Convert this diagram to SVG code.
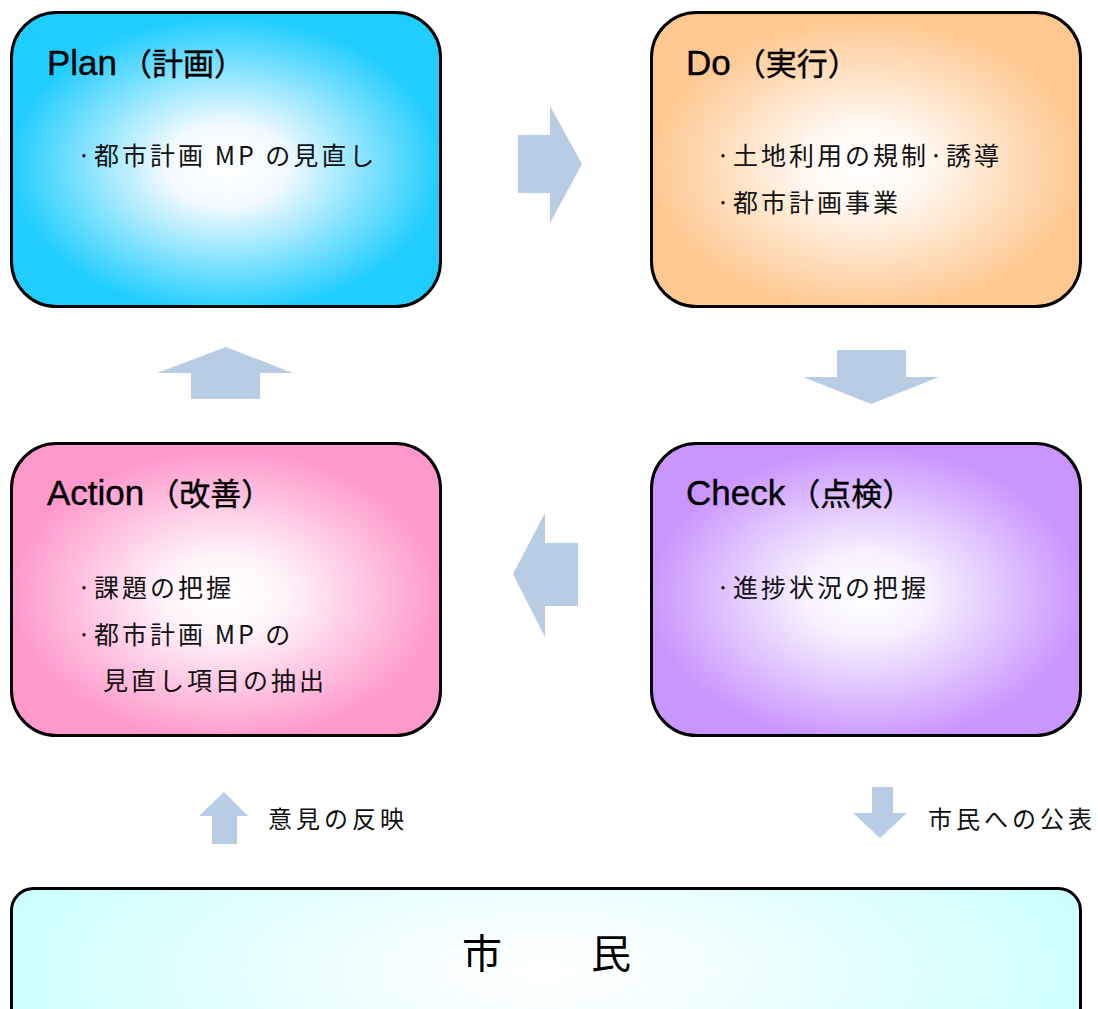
<svg xmlns="http://www.w3.org/2000/svg" width="1098" height="1009" viewBox="0 0 1098 1009">
<defs>
<radialGradient id="gPlan" cx="0.5" cy="0.52" r="0.56">
<stop offset="0" stop-color="#ffffff"/><stop offset="0.25" stop-color="#f2faff"/><stop offset="0.9" stop-color="#1fcdff"/><stop offset="1" stop-color="#1fcdff"/>
</radialGradient>
<radialGradient id="gDo" cx="0.5" cy="0.52" r="0.56">
<stop offset="0" stop-color="#ffffff"/><stop offset="0.25" stop-color="#fff8f1"/><stop offset="0.9" stop-color="#ffc890"/><stop offset="1" stop-color="#ffc890"/>
</radialGradient>
<radialGradient id="gAct" cx="0.5" cy="0.52" r="0.56">
<stop offset="0" stop-color="#ffffff"/><stop offset="0.25" stop-color="#fff4fa"/><stop offset="0.9" stop-color="#ff98cb"/><stop offset="1" stop-color="#ff98cb"/>
</radialGradient>
<radialGradient id="gChk" cx="0.5" cy="0.52" r="0.56">
<stop offset="0" stop-color="#ffffff"/><stop offset="0.25" stop-color="#f8f2ff"/><stop offset="0.9" stop-color="#c996ff"/><stop offset="1" stop-color="#c996ff"/>
</radialGradient>
<radialGradient id="gCit" cx="0.5" cy="0.55" r="0.6" gradientTransform="translate(0.5 0.55) scale(1 2.5) translate(-0.5 -0.55)">
<stop offset="0" stop-color="#ffffff"/><stop offset="0.25" stop-color="#f3ffff"/><stop offset="0.9" stop-color="#ccffff"/><stop offset="1" stop-color="#ccffff"/>
</radialGradient>
</defs>
<style>
.box{stroke:#000;stroke-width:3}
.arr{fill:#b8cce4}
.ttl{font-family:"Noto Sans CJK JP",sans-serif;font-size:31px;fill:#000;stroke:#000;stroke-width:0.4}
.lat{font-family:"Liberation Sans","Noto Sans CJK JP",sans-serif;font-size:35px}
.body{font-family:"Noto Sans CJK JP",sans-serif;font-size:25px;letter-spacing:3px;fill:#111}
.lbl{font-family:"Noto Sans CJK JP",sans-serif;font-size:24px;letter-spacing:4px;fill:#111}
.cit{font-family:"Noto Sans CJK JP",sans-serif;font-size:40px;fill:#000}
</style>
<rect width="1098" height="1009" fill="#ffffff"/>
<g id="plan">
<rect class="box" x="11.5" y="12.5" width="429" height="294" rx="45" fill="url(#gPlan)"/>
<text class="ttl" x="47" y="75"><tspan class="lat">Plan</tspan><tspan dx="4">（計画）</tspan></text>
<text class="body" x="77" y="165">·都市計画 MP の見直し</text>
</g>
<g id="do">
<rect class="box" x="651.5" y="12.5" width="429" height="294" rx="45" fill="url(#gDo)"/>
<text class="ttl" x="686" y="75"><tspan class="lat">Do</tspan><tspan dx="4">（実行）</tspan></text>
<text class="body" x="716" y="165">·土地利用の規制·誘導</text>
<text class="body" x="716" y="212">·都市計画事業</text>
</g>
<g id="action">
<rect class="box" x="11.5" y="443.5" width="429" height="292" rx="45" fill="url(#gAct)"/>
<text class="ttl" x="47" y="505"><tspan class="lat">Action</tspan><tspan dx="4">（改善）</tspan></text>
<text class="body" x="77" y="597">·課題の把握</text>
<text class="body" x="77" y="644">·都市計画 MP の</text>
<text class="body" x="103" y="690">見直し項目の抽出</text>
</g>
<g id="check">
<rect class="box" x="651.5" y="443.5" width="429" height="292" rx="45" fill="url(#gChk)"/>
<text class="ttl" x="686" y="505"><tspan class="lat">Check</tspan><tspan dx="4">（点検）</tspan></text>
<text class="body" x="716" y="597">·進捗状況の把握</text>
</g>
<g id="citizens">
<rect class="box" x="11.5" y="888.5" width="1069" height="150" rx="22" fill="url(#gCit)"/>
<text class="cit" x="462" y="968">市<tspan x="591">民</tspan></text>
</g>
<g id="connectors">
<polygon class="arr" points="518,135 550,135 550,106 582,164 550,223 550,193 518,193"/>
<polygon class="arr" points="837,350 906,350 906,377 939,377 871,404 803,377 837,377"/>
<polygon class="arr" points="578,543 545,543 545,513 513,574 545,637 545,606 578,606"/>
<polygon class="arr" points="191,399 191,373 157,373 226,347 293,373 260,373 260,399"/>
<polygon class="arr" points="212,844 212,816 199,816 224,792 248,816 237,816 237,844"/>
<polygon class="arr" points="872,787 893,787 893,813 907,813 880,838 853,813 872,813"/>
<text class="lbl" x="268" y="828">意見の反映</text>
<text class="lbl" x="928" y="828">市民への公表</text>
</g>
</svg>
